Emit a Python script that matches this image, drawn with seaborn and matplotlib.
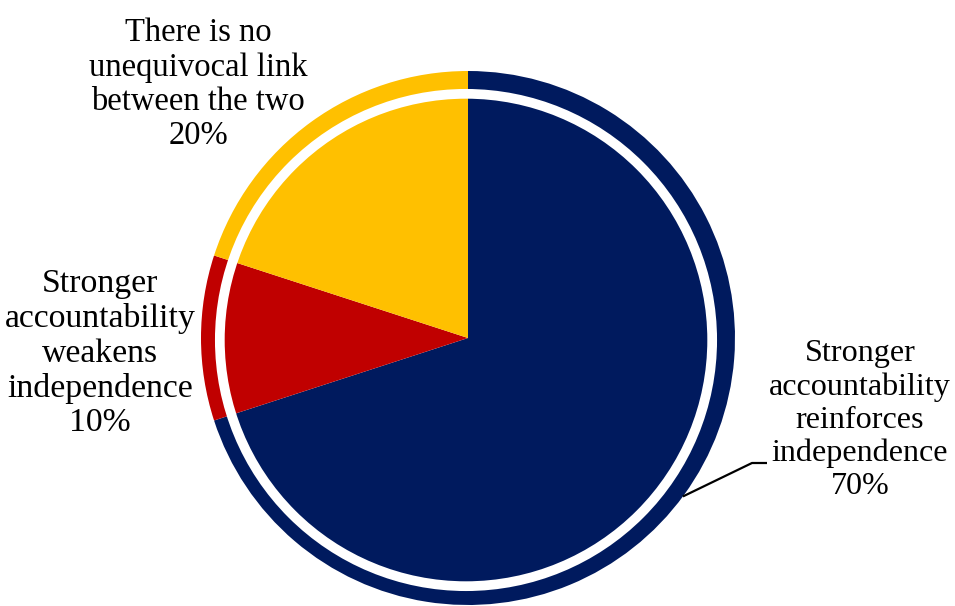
import numpy as np
import matplotlib
matplotlib.use("Agg")
import matplotlib.pyplot as plt
from matplotlib.patches import Circle
import seaborn as sns

# Survey responses: how accountability relates to independence
categories = [
    "Stronger\naccountability\nreinforces\nindependence",
    "Stronger\naccountability\nweakens\nindependence",
    "There is no\nunequivocal link\nbetween the two",
]
shares = [70, 10, 20]
colors = ["#001A5E", "#C00000", "#FFC000"]

sns.set_theme(style="white")
plt.rcParams["font.family"] = ["Liberation Serif", "DejaVu Serif"]

W, H = 955, 606
fig = plt.figure(figsize=(W / 100, H / 100), dpi=100)
ax = fig.add_axes([0, 0, 1, 1])

cx, cy, r = 468, H - 338, 267
wedges, _ = ax.pie(
    shares,
    colors=colors,
    startangle=90,
    counterclock=False,
    center=(cx, cy),
    radius=r,
    wedgeprops=dict(linewidth=0),
    frame=True,
)
ax.set_xlim(0, W)
ax.set_ylim(0, H)
ax.set_aspect("equal")
ax.axis("off")

# inner white ring
ax.add_patch(Circle((cx - 2, cy - 2), r * 0.922, fill=False, edgecolor="white",
                    linewidth=7.0, zorder=5))

# labels
label_pos = [(860, H - 420), (100, H - 353.5), (198, H - 84.5)]
label_size = [23.1, 24.3, 23.5]
for cat, val, (lx, ly), fs in zip(categories, shares, label_pos, label_size):
    ax.text(lx, ly, f"{cat}\n{val}%", ha="center", va="center",
            multialignment="center", fontsize=fs, color="black",
            linespacing=1.17)

# leader line for the largest slice
ang = np.deg2rad(-36.4)
sx, sy = cx + r * np.cos(ang), cy + r * np.sin(ang)
ax.plot([sx, 752, 767], [sy, H - 463, H - 463], color="black", lw=1.6,
        zorder=6, solid_capstyle="butt")

fig.savefig("out.png", dpi=100)
